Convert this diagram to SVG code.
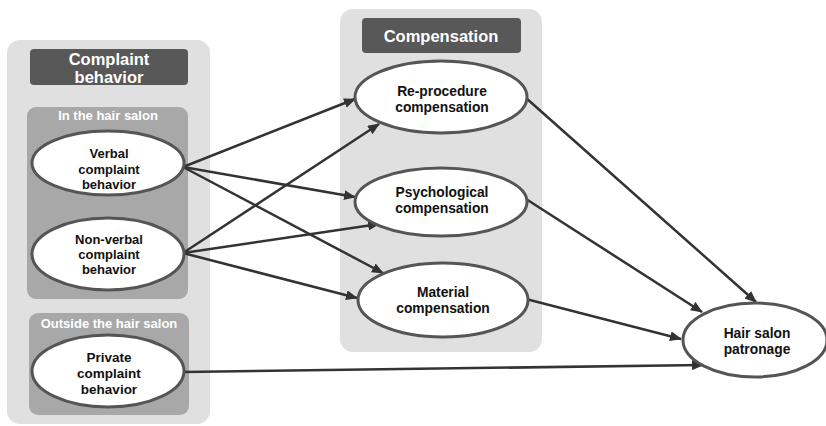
<svg xmlns="http://www.w3.org/2000/svg" width="826" height="426" viewBox="0 0 826 426">
<defs>
<style>
.panel{fill:#e0e0e0}
.sub{fill:#a8a8a8}
.title{fill:#585858}
.node{fill:#ffffff;stroke:#555555;stroke-width:3}
.tt{font-family:"Liberation Sans",Arial,sans-serif;font-weight:bold;fill:#ffffff;text-anchor:middle;font-size:16.5px}
.st{font-family:"Liberation Sans",Arial,sans-serif;font-weight:bold;fill:#ffffff;text-anchor:middle;font-size:13px}
.nt{font-family:"Liberation Sans",Arial,sans-serif;font-weight:bold;fill:#111111;text-anchor:middle;font-size:13.8px}
.ntl{font-family:"Liberation Sans",Arial,sans-serif;font-weight:bold;fill:#111111;text-anchor:middle;font-size:13px}
.ntp{font-family:"Liberation Sans",Arial,sans-serif;font-weight:bold;fill:#111111;text-anchor:middle;font-size:13.5px}
.edge{stroke:#333333;stroke-width:2.5;fill:none;marker-end:url(#ah)}
</style>
<marker id="ah" markerUnits="userSpaceOnUse" markerWidth="12" markerHeight="10" refX="11" refY="5" orient="auto">
<path d="M0,0 L12,5 L0,10 Z" fill="#333333"/>
</marker>
</defs>
<rect width="826" height="426" fill="#ffffff"/>

<g id="panel-complaint">
<rect class="panel" x="7" y="40" width="203" height="384" rx="13"/>
<rect class="title" x="30" y="49" width="158" height="36" rx="4"/>
<text class="tt" x="109" y="65">Complaint</text>
<text class="tt" x="109" y="83">behavior</text>
<rect class="sub" x="27" y="107" width="161" height="192" rx="9"/>
<text class="st" x="108" y="120">In the hair salon</text>
<rect class="sub" x="29" y="313" width="160" height="102" rx="9"/>
<text class="st" x="109" y="328">Outside the hair salon</text>
</g>

<g id="panel-compensation">
<rect class="panel" x="340" y="9" width="202" height="343" rx="13"/>
<rect class="title" x="362" y="18" width="159" height="35" rx="4"/>
<text class="tt" x="441" y="42">Compensation</text>
</g>

<g id="connectors">
<line class="edge" x1="183" y1="167" x2="355" y2="99"/>
<line class="edge" x1="183" y1="167" x2="355" y2="197"/>
<line class="edge" x1="183" y1="167" x2="383" y2="273"/>
<line class="edge" x1="183" y1="253" x2="379" y2="124"/>
<line class="edge" x1="183" y1="253" x2="379" y2="224"/>
<line class="edge" x1="183" y1="253" x2="357" y2="298"/>
<line class="edge" x1="526" y1="98" x2="756" y2="302"/>
<line class="edge" x1="526" y1="199" x2="702" y2="312"/>
<line class="edge" x1="526" y1="299" x2="681" y2="339"/>
<line class="edge" x1="183" y1="372" x2="703" y2="365"/>
</g>

<g id="node-verbal">
<ellipse class="node" cx="108" cy="163" rx="76" ry="32"/>
<text class="ntl" x="109" y="158">Verbal</text>
<text class="ntl" x="109" y="174">complaint</text>
<text class="ntl" x="109" y="189">behavior</text>
</g>
<g id="node-nonverbal">
<ellipse class="node" cx="108" cy="254" rx="76" ry="36"/>
<text class="ntl" x="109" y="244">Non-verbal</text>
<text class="ntl" x="109" y="259">complaint</text>
<text class="ntl" x="109" y="274">behavior</text>
</g>
<g id="node-private">
<ellipse class="node" cx="108" cy="371" rx="76" ry="36"/>
<text class="ntp" x="109" y="362">Private</text>
<text class="ntp" x="109" y="378">complaint</text>
<text class="ntp" x="109" y="394">behavior</text>
</g>
<g id="node-reprocedure">
<ellipse class="node" cx="441" cy="97" rx="86" ry="36"/>
<text class="nt" x="442" y="96">Re-procedure</text>
<text class="nt" x="442" y="112">compensation</text>
</g>
<g id="node-psychological">
<ellipse class="node" cx="441" cy="202" rx="86" ry="34"/>
<text class="nt" x="442" y="197">Psychological</text>
<text class="nt" x="442" y="213">compensation</text>
</g>
<g id="node-material">
<ellipse class="node" cx="443" cy="300" rx="85" ry="37"/>
<text class="nt" x="443" y="297">Material</text>
<text class="nt" x="443" y="313">compensation</text>
</g>
<g id="node-patronage">
<ellipse class="node" cx="755" cy="340" rx="72" ry="37"/>
<text class="nt" x="757" y="338">Hair salon</text>
<text class="nt" x="757" y="354">patronage</text>
</g>
</svg>
